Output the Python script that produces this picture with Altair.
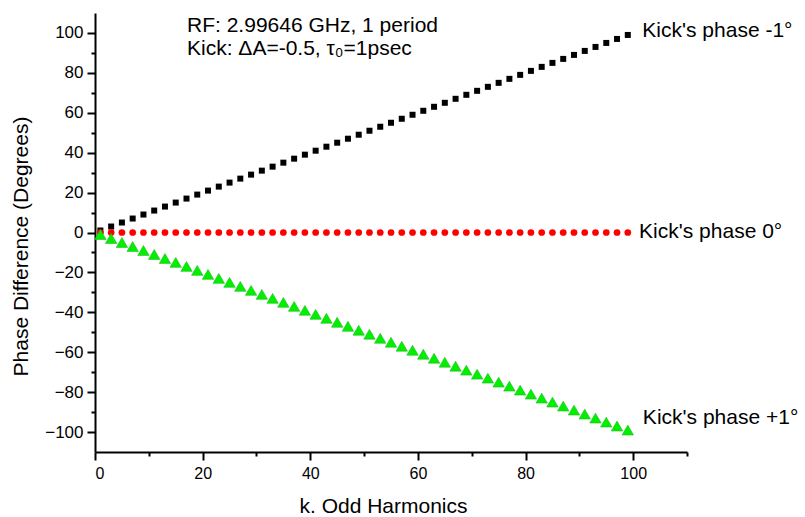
import altair as alt
import pandas as pd

# Odd harmonics k
k = [1, 3, 5, 7, 9, 11, 13, 15, 17, 19, 21, 23, 25, 27, 29, 31, 33, 35, 37, 39,
     41, 43, 45, 47, 49, 51, 53, 55, 57, 59, 61, 63, 65, 67, 69, 71, 73, 75, 77, 79,
     81, 83, 85, 87, 89, 91, 93, 95, 97, 99]
# Phase difference (degrees) for each kick phase
phase_minus1 = [1, 3, 5, 7, 9, 11, 13, 15, 17, 19, 21, 23, 25, 27, 29, 31, 33, 35, 37, 39,
                41, 43, 45, 47, 49, 51, 53, 55, 57, 59, 61, 63, 65, 67, 69, 71, 73, 75, 77, 79,
                81, 83, 85, 87, 89, 91, 93, 95, 97, 99]
phase_zero = [0, 0, 0, 0, 0, 0, 0, 0, 0, 0, 0, 0, 0, 0, 0, 0, 0, 0, 0, 0,
              0, 0, 0, 0, 0, 0, 0, 0, 0, 0, 0, 0, 0, 0, 0, 0, 0, 0, 0, 0,
              0, 0, 0, 0, 0, 0, 0, 0, 0, 0]
phase_plus1 = [-1, -3, -5, -7, -9, -11, -13, -15, -17, -19, -21, -23, -25, -27, -29, -31, -33, -35, -37, -39,
               -41, -43, -45, -47, -49, -51, -53, -55, -57, -59, -61, -63, -65, -67, -69, -71, -73, -75, -77, -79,
               -81, -83, -85, -87, -89, -91, -93, -95, -97, -99]

x_major = [0, 20, 40, 60, 80, 100]
x_minor = [10, 30, 50, 70, 90, 110]
y_major = [-100, -80, -60, -40, -20, 0, 20, 40, 60, 80, 100]
y_minor = [-90, -70, -50, -30, -10, 10, 30, 50, 70, 90]

# Annotations (data coordinates)
ann_text = ["RF: 2.99646 GHz, 1 period", "Kick: \u0394A=-0.5, \u03c4\u2080=1psec",
            "Kick's phase -1\u00b0", "Kick's phase 0\u00b0", "Kick's phase +1\u00b0"]
ann_x = [17.1, 17.1, 101.7, 101.1, 101.8]
ann_y = [100.5, 89.0, 98.0, -2.8, -96.0]

FONT = "Liberation Sans"

df = pd.DataFrame({
    "k": k * 3,
    "phase": phase_minus1 + phase_zero + phase_plus1,
    "series": ["m1"] * len(k) + ["zero"] * len(k) + ["p1"] * len(k),
})
ann = pd.DataFrame({"text": ann_text, "x": ann_x, "y": ann_y})

xs = alt.Scale(domain=[0, 110], nice=False, zero=False)
ys = alt.Scale(domain=[-110, 110], nice=False, zero=False)

x_main_axis = alt.Axis(values=x_major, orient="bottom", grid=False, tickSize=8, tickWidth=2,
                       domainWidth=2, domainColor="black", tickColor="black",
                       labelFontSize=16, labelFont=FONT, labelColor="black", labelPadding=5,
                       title="k. Odd Harmonics", titleFont=FONT, titleFontSize=21,
                       titleFontWeight="normal", titleColor="black",
                       titleX=288, titleY=60, titleBaseline="alphabetic", titleAlign="center")
y_main_axis = alt.Axis(values=y_major, orient="left", grid=False, tickSize=8, tickWidth=2,
                       domainWidth=2, domainColor="black", tickColor="black",
                       labelFontSize=17, labelFont=FONT, labelColor="black", labelPadding=4,
                       title="Phase Difference (Degrees)", titleFont=FONT, titleFontSize=21,
                       titleFontWeight="normal", titleColor="black",
                       titleX=-68, titleY=233, titleBaseline="alphabetic", titleAlign="center",
                       titleAngle=270)
x_minor_axis = alt.Axis(values=x_minor, orient="bottom", grid=False, tickSize=4, tickWidth=2,
                        tickColor="black", domain=False, labels=False, title=None)
y_minor_axis = alt.Axis(values=y_minor, orient="left", grid=False, tickSize=4, tickWidth=2,
                        tickColor="black", domain=False, labels=False, title=None)

base = alt.Chart(df)

minor = base.mark_point(opacity=0).encode(
    x=alt.X("k:Q", scale=xs, axis=x_minor_axis),
    y=alt.Y("phase:Q", scale=ys, axis=y_minor_axis),
)

black = base.transform_filter(alt.datum.series == "m1").mark_point(
    shape="square", filled=True, opacity=1, size=36, color="black"
).encode(
    x=alt.X("k:Q", scale=xs, axis=x_main_axis),
    y=alt.Y("phase:Q", scale=ys, axis=y_main_axis),
)

red = base.transform_filter(alt.datum.series == "zero").mark_point(
    shape="circle", filled=True, opacity=1, size=45, color="#ff0000"
).encode(
    x=alt.X("k:Q", scale=xs, axis=None),
    y=alt.Y("phase:Q", scale=ys, axis=None),
)

green = base.transform_filter(alt.datum.series == "p1").mark_point(
    shape="triangle-up", filled=True, opacity=1, size=130, color="#00f000",
    stroke="#22bb22", strokeWidth=0.6
).encode(
    x=alt.X("k:Q", scale=xs, axis=None),
    y=alt.Y("phase:Q", scale=ys, axis=None),
)

texts = alt.Chart(ann).mark_text(
    align="left", baseline="alphabetic", font=FONT, fontSize=21, color="black"
).encode(
    x=alt.X("x:Q", scale=xs, axis=None),
    y=alt.Y("y:Q", scale=ys, axis=None),
    text="text:N",
)

chart = alt.layer(minor, black, red, green, texts).resolve_axis(
    x="independent", y="independent"
).properties(
    width=592, height=439,
    autosize=alt.AutoSizeParams(type="none"),
    padding={"left": 95, "top": 13, "right": 118, "bottom": 65},
    background="white",
).configure_view(stroke=None)

chart.save("out.html", embed_options={"renderer": "svg", "actions": False})
